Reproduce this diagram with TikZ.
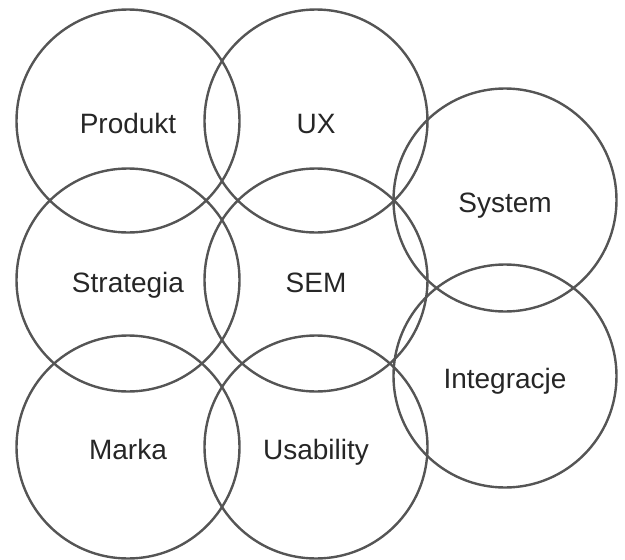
\documentclass[tikz,border=0pt]{standalone}
\usepackage{fontspec}
\setmainfont{Liberation Sans}
\usetikzlibrary{positioning}
\definecolor{ringgray}{HTML}{555555}
\tikzset{
  every node/.style={
    font=\fontsize{28}{32}\selectfont,
    text=black!85
  },
  area/.style={
    shape=circle,
    draw=ringgray,
    line width=2.4pt,
    minimum size=223pt,
    inner sep=0pt,
    text height=24pt,
    text depth=0pt
  }
}

\begin{document}
\begin{tikzpicture}[x=1pt,y=-1pt]
\useasboundingbox (0,0) rectangle (625,560);

% left column
\node [area] (produkt)   at (128,121) { Produkt };
\node [area] (strategia) at (128,280) { Strategia };
\node [area] (marka)     at (128,447) { Marka };

% middle column
\node [area] (ux)        at (316,121) { UX };
\node [area] (sem)       at (316,280) { SEM };
\node [area] (usability) at (316,447) { Usability };

% right column, shifted half a row
\node [area] (system)     at (505,200) { System };
\node [area] (integracje) at (505,376) { Integracje };

\end{tikzpicture}
\end{document}
